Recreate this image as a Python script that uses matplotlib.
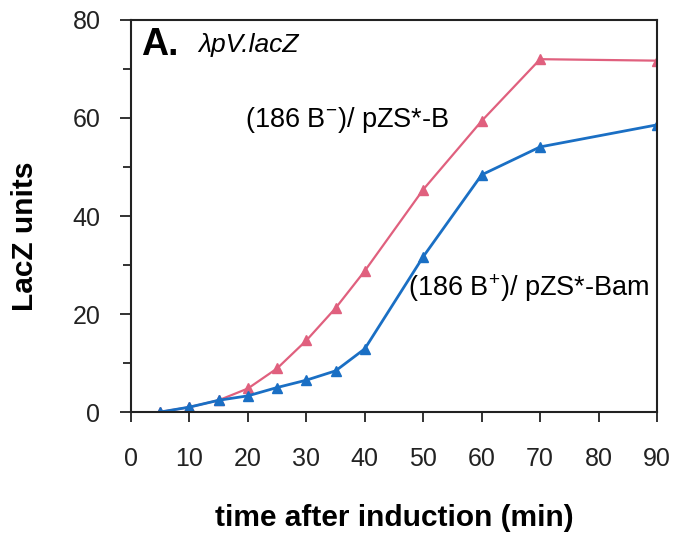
import matplotlib
matplotlib.use("Agg")
import matplotlib.pyplot as plt

# values
time_min = [5, 10, 15, 20, 25, 30, 35, 40, 50, 60, 70, 90]
b_minus = [0.0, 1.0, 2.4, 4.8, 8.9, 14.6, 21.2, 28.8, 45.4, 59.4, 72.0, 71.7]
b_plus = [0.0, 1.0, 2.4, 3.3, 5.0, 6.5, 8.4, 12.9, 31.7, 48.4, 54.1, 58.6]

x_ticks = [0, 10, 20, 30, 40, 50, 60, 70, 80, 90]
y_ticks = [0, 20, 40, 60, 80]
y_minor = [10, 30, 50, 70]

pink = "#e0607e"
blue = "#1a6fc4"

plt.rcParams["font.family"] = ["Liberation Sans", "DejaVu Sans"]
plt.rcParams["mathtext.fontset"] = "custom"
plt.rcParams["mathtext.rm"] = "Liberation Sans"
plt.rcParams["mathtext.it"] = "Liberation Sans:italic"

fig = plt.figure(figsize=(6.77, 5.4), dpi=100)
ax = fig.add_axes([0.1935, 0.237, 0.777, 0.726])

ax.plot(time_min, b_minus, color=pink, lw=1.6, marker="^", ms=7.5, mec=pink, mfc=pink)
ax.plot(time_min, b_plus, color=blue, lw=2.0, marker="^", ms=7.5, mec=blue, mfc=blue)

ax.set_xlim(0, 90)
ax.set_ylim(0, 80)
ax.set_xticks(x_ticks)
ax.set_yticks(y_ticks)
ax.set_yticks(y_minor, minor=True)
ax.tick_params(axis="both", which="both", direction="out", width=1.3, colors="#222222")
ax.tick_params(axis="x", which="major", length=7, pad=18, labelsize=18)
ax.tick_params(axis="y", which="major", length=8, pad=14, labelsize=18)
ax.tick_params(axis="y", which="minor", length=6)
for sp in ax.spines.values():
    sp.set_linewidth(1.5)
    sp.set_color("#222222")

ax.set_xlabel("time after induction (min)", fontsize=21.5, fontweight="bold", labelpad=24)
ax.set_ylabel("LacZ units", fontsize=21.5, fontweight="bold")
ax.yaxis.set_label_coords(-0.174, 0.449)

ax.text(1.8, 74.9, "A.", fontsize=27, fontweight="bold", va="center")
ax.text(11.5, 74.9, "λpV.lacZ", fontsize=19, style="italic", va="center")
ax.text(19.5, 59.6, "(186 B$^{-}$)/ pZS*-B", fontsize=19.5, va="center")
ax.text(47.4, 25.3, "(186 B$^{+}$)/ pZS*-Bam", fontsize=19.5, va="center")

fig.savefig("out.png", dpi=100)
